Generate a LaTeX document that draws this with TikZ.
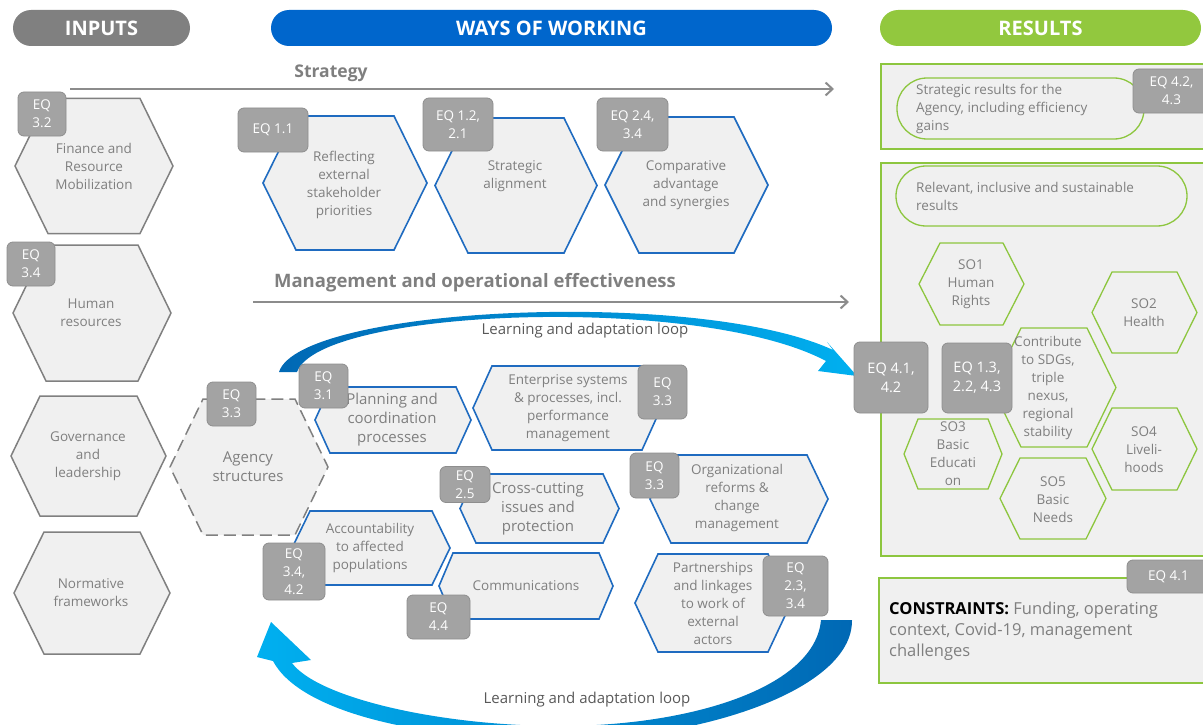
\documentclass[tikz,border=0pt]{standalone}
\usepackage{fontspec}
\setmainfont{Open Sans}
\usetikzlibrary{arrows.meta}
\definecolor{hexfill}{HTML}{F0F0F0}
\definecolor{graybd}{HTML}{808080}
\definecolor{bluebd}{HTML}{1F6BC0}
\definecolor{greenbd}{HTML}{8DC63F}
\definecolor{eqfill}{HTML}{A3A3A3}
\definecolor{eqbd}{HTML}{8E8E8E}
\definecolor{txt}{HTML}{7F7F7F}
\definecolor{dtxt}{HTML}{595959}
\definecolor{hdrgray}{HTML}{808080}
\definecolor{hdrblue}{HTML}{0066CC}
\definecolor{hdrgreen}{HTML}{92C83E}
\definecolor{loopdark}{HTML}{0068B4}
\definecolor{looplight}{HTML}{00B0F0}
\definecolor{arrgray}{HTML}{8C8C8C}

% flat-topped hexagon: style, centre x, centre y, half width, half height, inset
\newcommand\hexa[6]{%
  \draw[#1] ({#2-#4},#3) -- ({#2-#4+#6},{#3-#5}) -- ({#2+#4-#6},{#3-#5})
    -- ({#2+#4},#3) -- ({#2+#4-#6},{#3+#5}) -- ({#2-#4+#6},{#3+#5}) -- cycle;}

\begin{document}
\begin{tikzpicture}[x=1pt,y=-1pt,
  hexin/.style={draw=graybd,fill=hexfill,line width=1.5pt},
  hexag/.style={draw=graybd,fill=hexfill,line width=1.5pt,dash pattern=on 12pt off 6pt},
  hexblue/.style={draw=bluebd,fill=hexfill,line width=1.6pt},
  hexgreen/.style={draw=greenbd,line width=1.3pt},
  lbl/.style={text=txt,align=center,font=\fontsize{13.5}{18}\selectfont,inner sep=0pt},
  lblbig/.style={lbl,font=\fontsize{15}{19}\selectfont},
  eq/.style={fill=eqfill,draw=eqbd,line width=0.8pt,rounded corners=6pt,text=white,
    align=center,font=\fontsize{13.5}{18}\selectfont,inner sep=0pt},
  pill/.style={rounded corners=18pt,minimum height=36pt,text=white,
    font=\fontsize{20}{23}\bfseries\selectfont,inner sep=0pt},
  flowline/.style={draw=arrgray,line width=2pt,-{Straight Barb[length=7pt,width=13pt,line width=2pt]}},
  flowtitle/.style={text=txt,font=\fontsize{17.5}{20}\bfseries\selectfont,inner sep=0pt},
  looptxt/.style={text=dtxt,font=\fontsize{15}{18}\selectfont,inner sep=0pt},
  resbox/.style={draw=greenbd,fill=hexfill,line width=2pt},
  respill/.style={draw=greenbd,line width=1.3pt,rounded corners=30pt},
  restxt/.style={text=txt,align=left,font=\fontsize{13.5}{18}\selectfont,inner sep=0pt}]
\useasboundingbox (0,0) rectangle (1203,725);
\clip (0,0) rectangle (1203,725);

% ---------- column headers ----------
\node[pill,fill=hdrgray,minimum width=177pt] (hIn) at (101.5,28) {INPUTS};
\node[pill,fill=hdrblue,minimum width=561pt] (hWay) at (551.5,28) {WAYS OF WORKING};
\node[pill,fill=hdrgreen,minimum width=321pt] (hRes) at (1040.5,28) {RESULTS};

% ---------- flow lines ----------
\coordinate (stA) at (70,89);
\coordinate (stB) at (834,89);
\draw[flowline] (stA) -- (stB);
\node[flowtitle] (tStrat) at (331,73) {Strategy};
\coordinate (mgA) at (253,302);
\coordinate (mgB) at (849,302);
\draw[flowline] (mgA) -- (mgB);
\node[flowtitle,font=\fontsize{18.5}{21}\bfseries\selectfont] (tMgmt) at (475,283) {Management and operational effectiveness};

% ---------- learning loops ----------
\shade[left color=loopdark,right color=looplight]
  (279,372) .. controls (300,306) and (700,288) .. (833,350)
  -- (827,342) -- (857,376) -- (818,371) -- (826,361)
  .. controls (700,294) and (320,308) .. (297,372) -- cycle;
\node[looptxt] (tLoopTop) at (585,331) {Learning and adaptation loop};

\shade[left color=looplight,right color=loopdark]
  (852,620) .. controls (853,690) and (700,740) .. (560,740)
  .. controls (420,740) and (300,712) .. (273,661)
  -- (257,657) -- (271,622) -- (311,660) -- (292,663)
  .. controls (318,698) and (440,726) .. (560,726)
  .. controls (690,726) and (815,688) .. (821,620) -- cycle;
\node[looptxt] (tLoopBot) at (587,700) {Learning and adaptation loop};

% ---------- inputs ----------
\hexa{hexin}{94}{166}{79}{67.5}{33}
\node[lbl] (finance) at (94,166) {Finance and\\Resource\\Mobilization};
\hexa{hexin}{92}{313}{79}{68}{33}
\node[lbl] (human) at (91,313) {Human\\resources};
\hexa{hexin}{88.5}{456}{77.5}{60}{29}
\node[lbl] (gov) at (88,456) {Governance\\and\\leadership};
\hexa{hexin}{92}{593}{78}{61}{30}
\node[lbl] (norm) at (91,593) {Normative\\frameworks};

\node[eq,minimum width=48pt,minimum height=44pt] (eqA) at (42,114) {EQ\\3.2};
\node[eq,minimum width=48pt,minimum height=44pt] (eqB) at (31,264) {EQ\\3.4};

% ---------- strategy ----------
\hexa{hexblue}{345}{183}{82}{67}{33}
\node[lbl] (reflect) at (344,185) {Reflecting\\external\\stakeholder\\priorities};
\hexa{hexblue}{516}{185.5}{81}{67.5}{33}
\node[lbl] (align) at (515,176) {Strategic\\alignment};
\hexa{hexblue}{686.5}{185}{81.5}{68}{34}
\node[lbl] (compar) at (686,185) {Comparative\\advantage\\and synergies};

\node[eq,minimum width=70pt,minimum height=44pt] (eqC) at (273,130) {EQ 1.1};
\node[eq,minimum width=70pt,minimum height=53pt] (eqD) at (458,124.5) {EQ 1.2,\\2.1};
\node[eq,minimum width=71pt,minimum height=53pt] (eqE) at (632.5,124.5) {EQ 2.4,\\3.4};

% ---------- management and operations ----------
\hexa{hexag}{249}{467}{79}{68}{33}
\node[lblbig] (agency) at (248,467) {Agency\\structures};
\hexa{hexblue}{393}{420}{78}{33}{15}
\node[lblbig] (plan) at (392,420) {Planning and\\coordination\\processes};
\hexa{hexblue}{567}{408}{94}{42}{19}
\node[lbl] (enter) at (568,408) {Enterprise systems\\\& processes, incl.\\performance\\management};
\hexa{hexblue}{539.5}{508.5}{79.5}{34.5}{16}
\node[lblbig] (cross) at (538,509) {Cross-cutting\\issues and\\protection};
\hexa{hexblue}{371}{548}{79}{37}{18}
\node[lbl] (account) at (370,548) {Accountability\\to affected\\populations};
\hexa{hexblue}{739}{499}{89}{44}{21}
\node[lbl] (orgref) at (737,498) {Organizational\\reforms \&\\change\\management};
\hexa{hexblue}{526}{586}{87}{33}{14}
\node[lbl] (comms) at (526,586) {Communications};
\hexa{hexblue}{713}{603}{78}{49}{23}
\node[lbl] (partner) at (713,603) {Partnerships\\and linkages\\to work of\\external\\actors};

\node[eq,minimum width=49pt,minimum height=44pt] (eqF) at (231.5,404) {EQ\\3.3};
\node[eq,minimum width=49pt,minimum height=44pt] (eqG) at (323.5,386) {EQ\\3.1};
\node[eq,minimum width=49pt,minimum height=54pt] (eqH) at (662.5,392) {EQ\\3.3};
\node[eq,minimum width=50pt,minimum height=36pt] (eqI) at (465,484.5) {EQ\\2.5};
\node[eq,minimum width=49pt,minimum height=45pt] (eqJ) at (654.5,475.5) {EQ\\3.3};
\node[eq,minimum width=62pt,minimum height=57pt] (eqK) at (294,571.5) {EQ\\3.4,\\4.2};
\node[eq,minimum width=63pt,minimum height=44pt] (eqL) at (438.5,617) {EQ\\4.4};
\node[eq,minimum width=65pt,minimum height=60pt] (eqM) at (795.5,586) {EQ\\2.3,\\3.4};

% ---------- results ----------
\draw[resbox] (881,64) rectangle (1215,149);
\draw[respill] (897,78) rectangle (1144,139);
\node[restxt,anchor=west] (stratres) at (916,109) {Strategic results for the\\Agency, including efficiency\\gains};
\node[eq,minimum width=77pt,minimum height=44pt] (eqN) at (1171.5,91) {EQ 4.2,\\4.3};

\draw[resbox] (881,163) rectangle (1215,556);
\draw[respill] (896,166) rectangle (1187,226);
\node[restxt,anchor=west] (relres) at (916,196) {Relevant, inclusive and sustainable\\results};

\hexa{hexgreen}{971.5}{284}{52.5}{41}{21}
\node[lbl] (so1) at (971,284) {SO1\\Human\\Rights};
\hexa{hexgreen}{1144.5}{312.5}{52.5}{40.5}{20}
\node[lbl] (so2) at (1144,313) {SO2\\Health};
\hexa{hexgreen}{1054}{387.5}{62}{59.5}{29}
\node[lbl] (sdg) at (1048,388) {Contribute\\to SDGs,\\triple\\nexus,\\regional\\stability};
\hexa{hexgreen}{953}{454}{49}{35}{14}
\node[lbl] (so3) at (953,454) {SO3\\Basic\\Educati\\on};
\hexa{hexgreen}{1144.5}{449}{52.5}{41}{20}
\node[lbl] (so4) at (1144,450) {SO4\\Liveli-\\hoods};
\hexa{hexgreen}{1053}{498.5}{53}{40.5}{20}
\node[lbl] (so5) at (1053,500) {SO5\\Basic\\Needs};

\node[eq,minimum width=74pt,minimum height=71pt,font=\fontsize{14.5}{19}\selectfont] (eqO) at (891,377.5) {EQ 4.1,\\4.2};
\node[eq,minimum width=70pt,minimum height=70pt,font=\fontsize{14.5}{19}\selectfont] (eqP) at (977,378) {EQ 1.3,\\2.2, 4.3};

% ---------- constraints ----------
\draw[resbox] (879,578) rectangle (1215,683);
\node[eq,minimum width=83pt,minimum height=33pt,anchor=center] (eqQ) at (1168.5,576.5) {EQ 4.1};
\node[restxt,anchor=west,font=\fontsize{16.5}{21}\selectfont] (constr) at (889,631)
  {\textcolor{black}{\bfseries CONSTRAINTS:} Funding, operating\\context, Covid-19, management\\challenges};
\end{tikzpicture}
\end{document}
